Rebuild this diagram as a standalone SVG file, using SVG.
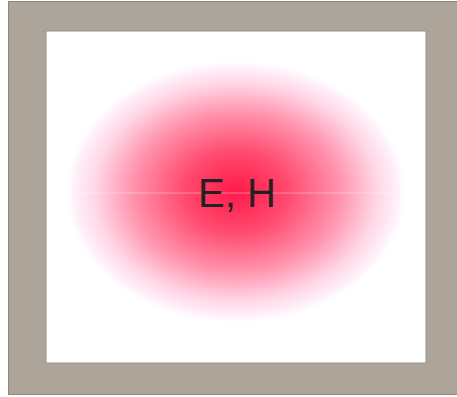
<svg xmlns="http://www.w3.org/2000/svg" width="457" height="397" viewBox="0 0 457 397">
<defs>
<radialGradient id="g" cx="236" cy="192" r="172" gradientUnits="userSpaceOnUse" gradientTransform="translate(0 192) scale(1 0.77) translate(0 -192)">
<stop offset="0" stop-color="#ff1a4a"/>
<stop offset="0.3" stop-color="#ff4a6e"/>
<stop offset="0.6" stop-color="#ff93ad"/>
<stop offset="0.82" stop-color="#ffd6e6"/>
<stop offset="0.95" stop-color="#fff3fb"/>
<stop offset="1" stop-color="#ffffff" stop-opacity="0"/>
</radialGradient>
</defs>
<style>
.lbl{font-family:"Liberation Sans",Arial,sans-serif;font-size:40px;fill:#222222}
</style>
<rect x="8.5" y="1.5" width="450" height="393" fill="#ada59a" stroke="#8f8881" stroke-width="1"/>
<rect x="46" y="31" width="380" height="332" fill="#ffffff" stroke="#9a938c" stroke-width="1"/>
<g id="field">
<ellipse cx="236" cy="192" rx="172" ry="132" fill="url(#g)"/>
<rect x="66" y="192" width="340" height="2" fill="#ffffff" opacity="0.18"/>
</g>
<g id="label">
<text class="lbl" x="237" y="207" text-anchor="middle">E, H</text>
</g>
</svg>
